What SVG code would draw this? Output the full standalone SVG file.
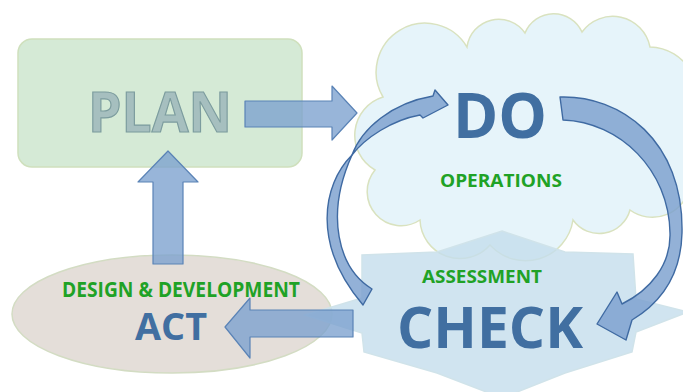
<svg xmlns="http://www.w3.org/2000/svg" width="683" height="392" viewBox="0 0 683 392">
  <style>
    .big { font-family: "Open Sans", "Liberation Sans", sans-serif; font-weight: 700; fill: #416fa1; }
    .lbl { font-family: "Open Sans", "Liberation Sans", sans-serif; font-weight: 700; fill: #1fa226; }
    .arrow { fill: #7ba0ce; fill-opacity: 0.78; stroke: #5a83b6; stroke-width: 1.2; stroke-linejoin: round; }
    .curve { fill: #7ba0ce; fill-opacity: 0.82; stroke: #3f6aa2; stroke-width: 1.4; stroke-linejoin: round; }
  </style>
  <rect width="683" height="392" fill="#ffffff"/>

  <g id="node-plan">
    <rect x="18" y="39" width="284" height="128" rx="14" fill="#d5ead6" stroke="#cfe0bd" stroke-width="1.5"/>
    <text x="88" y="132" font-family="Open Sans, Liberation Sans, sans-serif" font-weight="700" font-size="56" textLength="144" lengthAdjust="spacingAndGlyphs" fill="#a6bfbf" stroke="#7c9c9e" stroke-width="1.2">PLAN</text>
  </g>

  <g id="node-act">
    <ellipse cx="172" cy="314" rx="160" ry="59" fill="#e4ded9" stroke="#d3dcc3" stroke-width="1.5"/>
    <text class="lbl" x="62" y="297" font-size="20.5" textLength="238" lengthAdjust="spacingAndGlyphs">DESIGN &amp; DEVELOPMENT</text>
    <text class="big" x="135" y="340" font-size="38" textLength="72" lengthAdjust="spacingAndGlyphs">ACT</text>
  </g>

  <g id="node-do">
    <path d="M383,97 A46,46 0 0 1 467,47 A32,32 0 0 1 525,33 A31,31 0 0 1 582,32 A38,38 0 0 1 650,47 A48,48 0 0 1 690,120 L690,185 A38,38 0 0 1 630,210 A32,32 0 0 1 573,220 A48,48 0 0 1 490,245 A40,40 0 0 1 420,220 A34,34 0 0 1 375,170 A40,40 0 0 1 383,97 Z" fill="#e6f4fa" stroke="#d9e2bf" stroke-width="1.5"/>
    <text class="big" x="453" y="138" font-size="63" textLength="94" lengthAdjust="spacingAndGlyphs">DO</text>
    <text class="lbl" x="440" y="187" font-size="18" textLength="122" lengthAdjust="spacingAndGlyphs">OPERATIONS</text>
  </g>

  <g id="node-check">
    <polygon points="502,231 565,252 633,254 636,299 688,312 636,332 632,352 565,373 502,398 437,373 364,352 362,333 305,315 362,298 362,255 437,252" fill="#c4ddec" fill-opacity="0.8" stroke="#d0e3ea" stroke-width="1.5"/>
    <text class="lbl" x="422" y="283" font-size="18.5" textLength="120" lengthAdjust="spacingAndGlyphs">ASSESSMENT</text>
    <text class="big" x="397" y="348" font-size="57" textLength="186" lengthAdjust="spacingAndGlyphs">CHECK</text>
  </g>

  <g id="connectors">
    <path class="arrow" d="M245,101 L332,101 L332,86 L357,113 L332,140 L332,127 L245,127 Z"/>
    <path class="arrow" d="M153,264 L153,182 L138,182 L168,151 L198,182 L183,182 L183,264 Z"/>
    <path class="arrow" d="M353,310 L250,310 L250,298 L225,327 L250,358 L250,337 L353,337 Z"/>
    <path class="curve" d="M560,97 C620,95 684,140 682,233 C681,275 662,302 632,320 L626,340 L597,324 L617,292 L622,304 C650,290 671,265 670,233 C669,170 620,122 563,120 Z"/>
    <path class="curve" d="M352,155 C362,128 392,103 433,96 L435,90 L448,105 L423,118 L420,115 C392,120 365,138 352,155 Z"/>
    <path class="curve" d="M352,155 C322,185 312,245 363,305 L372,289 C338,268 325,215 352,155 Z"/>
  </g>
</svg>
